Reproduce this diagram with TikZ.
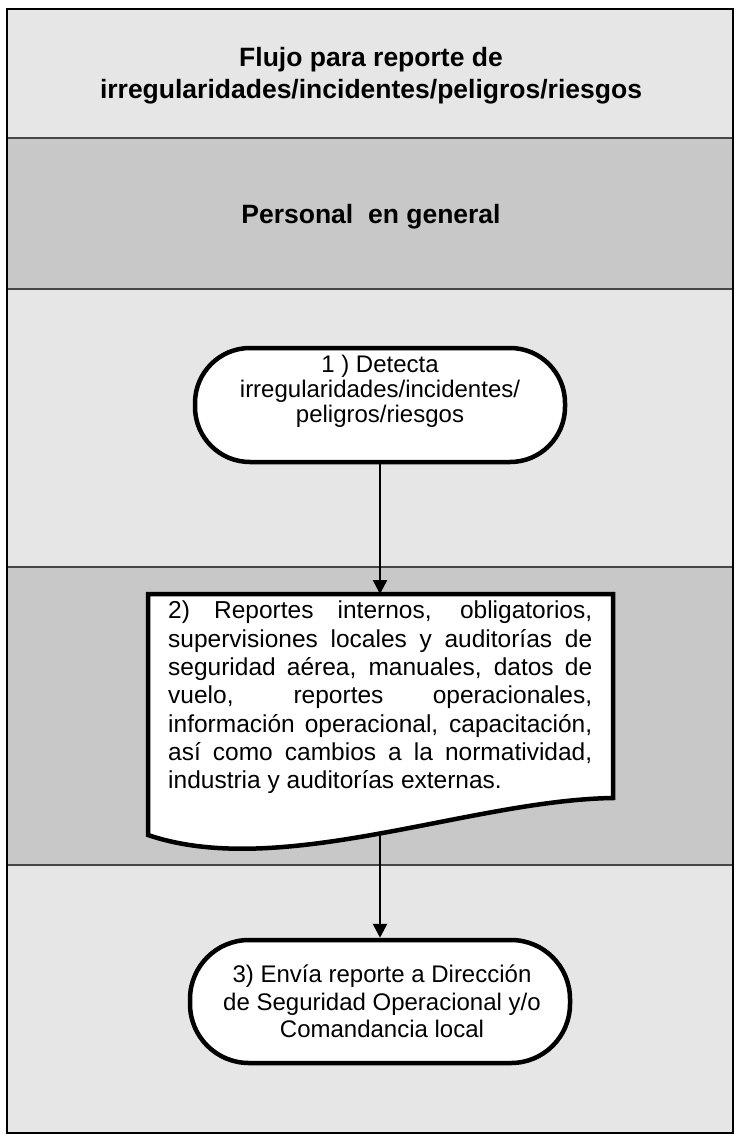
\documentclass[tikz,border=0pt]{standalone}
\usepackage{fontspec}
\setmainfont{Liberation Sans}
\usetikzlibrary{arrows.meta}
\definecolor{rowlight}{RGB}{230,230,230}
\definecolor{rowdark}{RGB}{200,200,200}
\definecolor{rowline}{RGB}{70,70,70}
\tolerance=10000
\hbadness=10000

\begin{document}
\begin{tikzpicture}[x=1pt, y=-1pt,
  term/.style={draw, line width=4.5pt, fill=white, rounded corners=55pt},
  flow/.style={line width=2.5pt, -{Triangle[width=14pt,length=14pt]}}]
\useasboundingbox (0,0) rectangle (737,1140);

% Draw the bands of the chart
\fill[rowlight] (7,9) rectangle (733,138);
\fill[rowdark] (7,138) rectangle (733,289);
\fill[rowlight] (7,289) rectangle (733,567);
\fill[rowdark] (7,567) rectangle (733,865);
\fill[rowlight] (7,865) rectangle (733,1133);
\draw[rowline, line width=2.5pt] (7,138) -- (733,138);
\draw[rowline, line width=2.5pt] (7,289) -- (733,289);
\draw[rowline, line width=2.5pt] (7,567) -- (733,567);
\draw[rowline, line width=2.5pt] (7,865) -- (733,865);
\draw[line width=2pt] (7,9) rectangle (733,1133);

% Headings
\node[align=center, font=\bfseries\fontsize{26.5}{32}\selectfont] (title) at (371,76) {Flujo para reporte de\\irregularidades/incidentes/peligros/riesgos};
\node[font=\bfseries\fontsize{26.5}{32}\selectfont] (staff) at (371,217) {Personal\ \ en general};

% Step 1
\node[term, minimum width=370pt, minimum height=114pt] (t1) at (380,405) {};
\node[align=center, font=\fontsize{24}{25}\selectfont] (t1text) at (380,391) {1 ) Detecta\\irregularidades/incidentes/\\peligros/riesgos};

% Step 2 (document shape)
\draw[line width=4.5pt, fill=white] (148,594) -- (613,594) -- (613,798) .. controls (470,800) and (280,880) .. (148,835) -- cycle;
\coordinate (docin) at (380,594);
\coordinate (docout) at (380,835);
\node[anchor=north west, inner sep=0pt, text width=424pt, align=justify, font=\fontsize{24.5}{28.3}\selectfont] (doctext) at (168,601) {2) Reportes internos, obligatorios,\linebreak supervisiones locales y auditorías de\linebreak seguridad aérea, manuales, datos de\linebreak vuelo, reportes operacionales,\linebreak información operacional, capacitación,\linebreak así como cambios a la normatividad,\linebreak industria y auditorías externas.};

% Step 3
\node[term, rounded corners=59pt, minimum width=380pt, minimum height=123pt] (t3) at (380,1001.5) {};
\node[align=center, font=\fontsize{24}{27.5}\selectfont] (t3text) at (382,1001.5) {3) Envía reporte a Dirección\\de Seguridad Operacional y/o\\Comandancia local};

% Connectors
\draw[flow] (t1) -- (docin);
\draw[flow] (docout) -- (t3);
\end{tikzpicture}
\end{document}
